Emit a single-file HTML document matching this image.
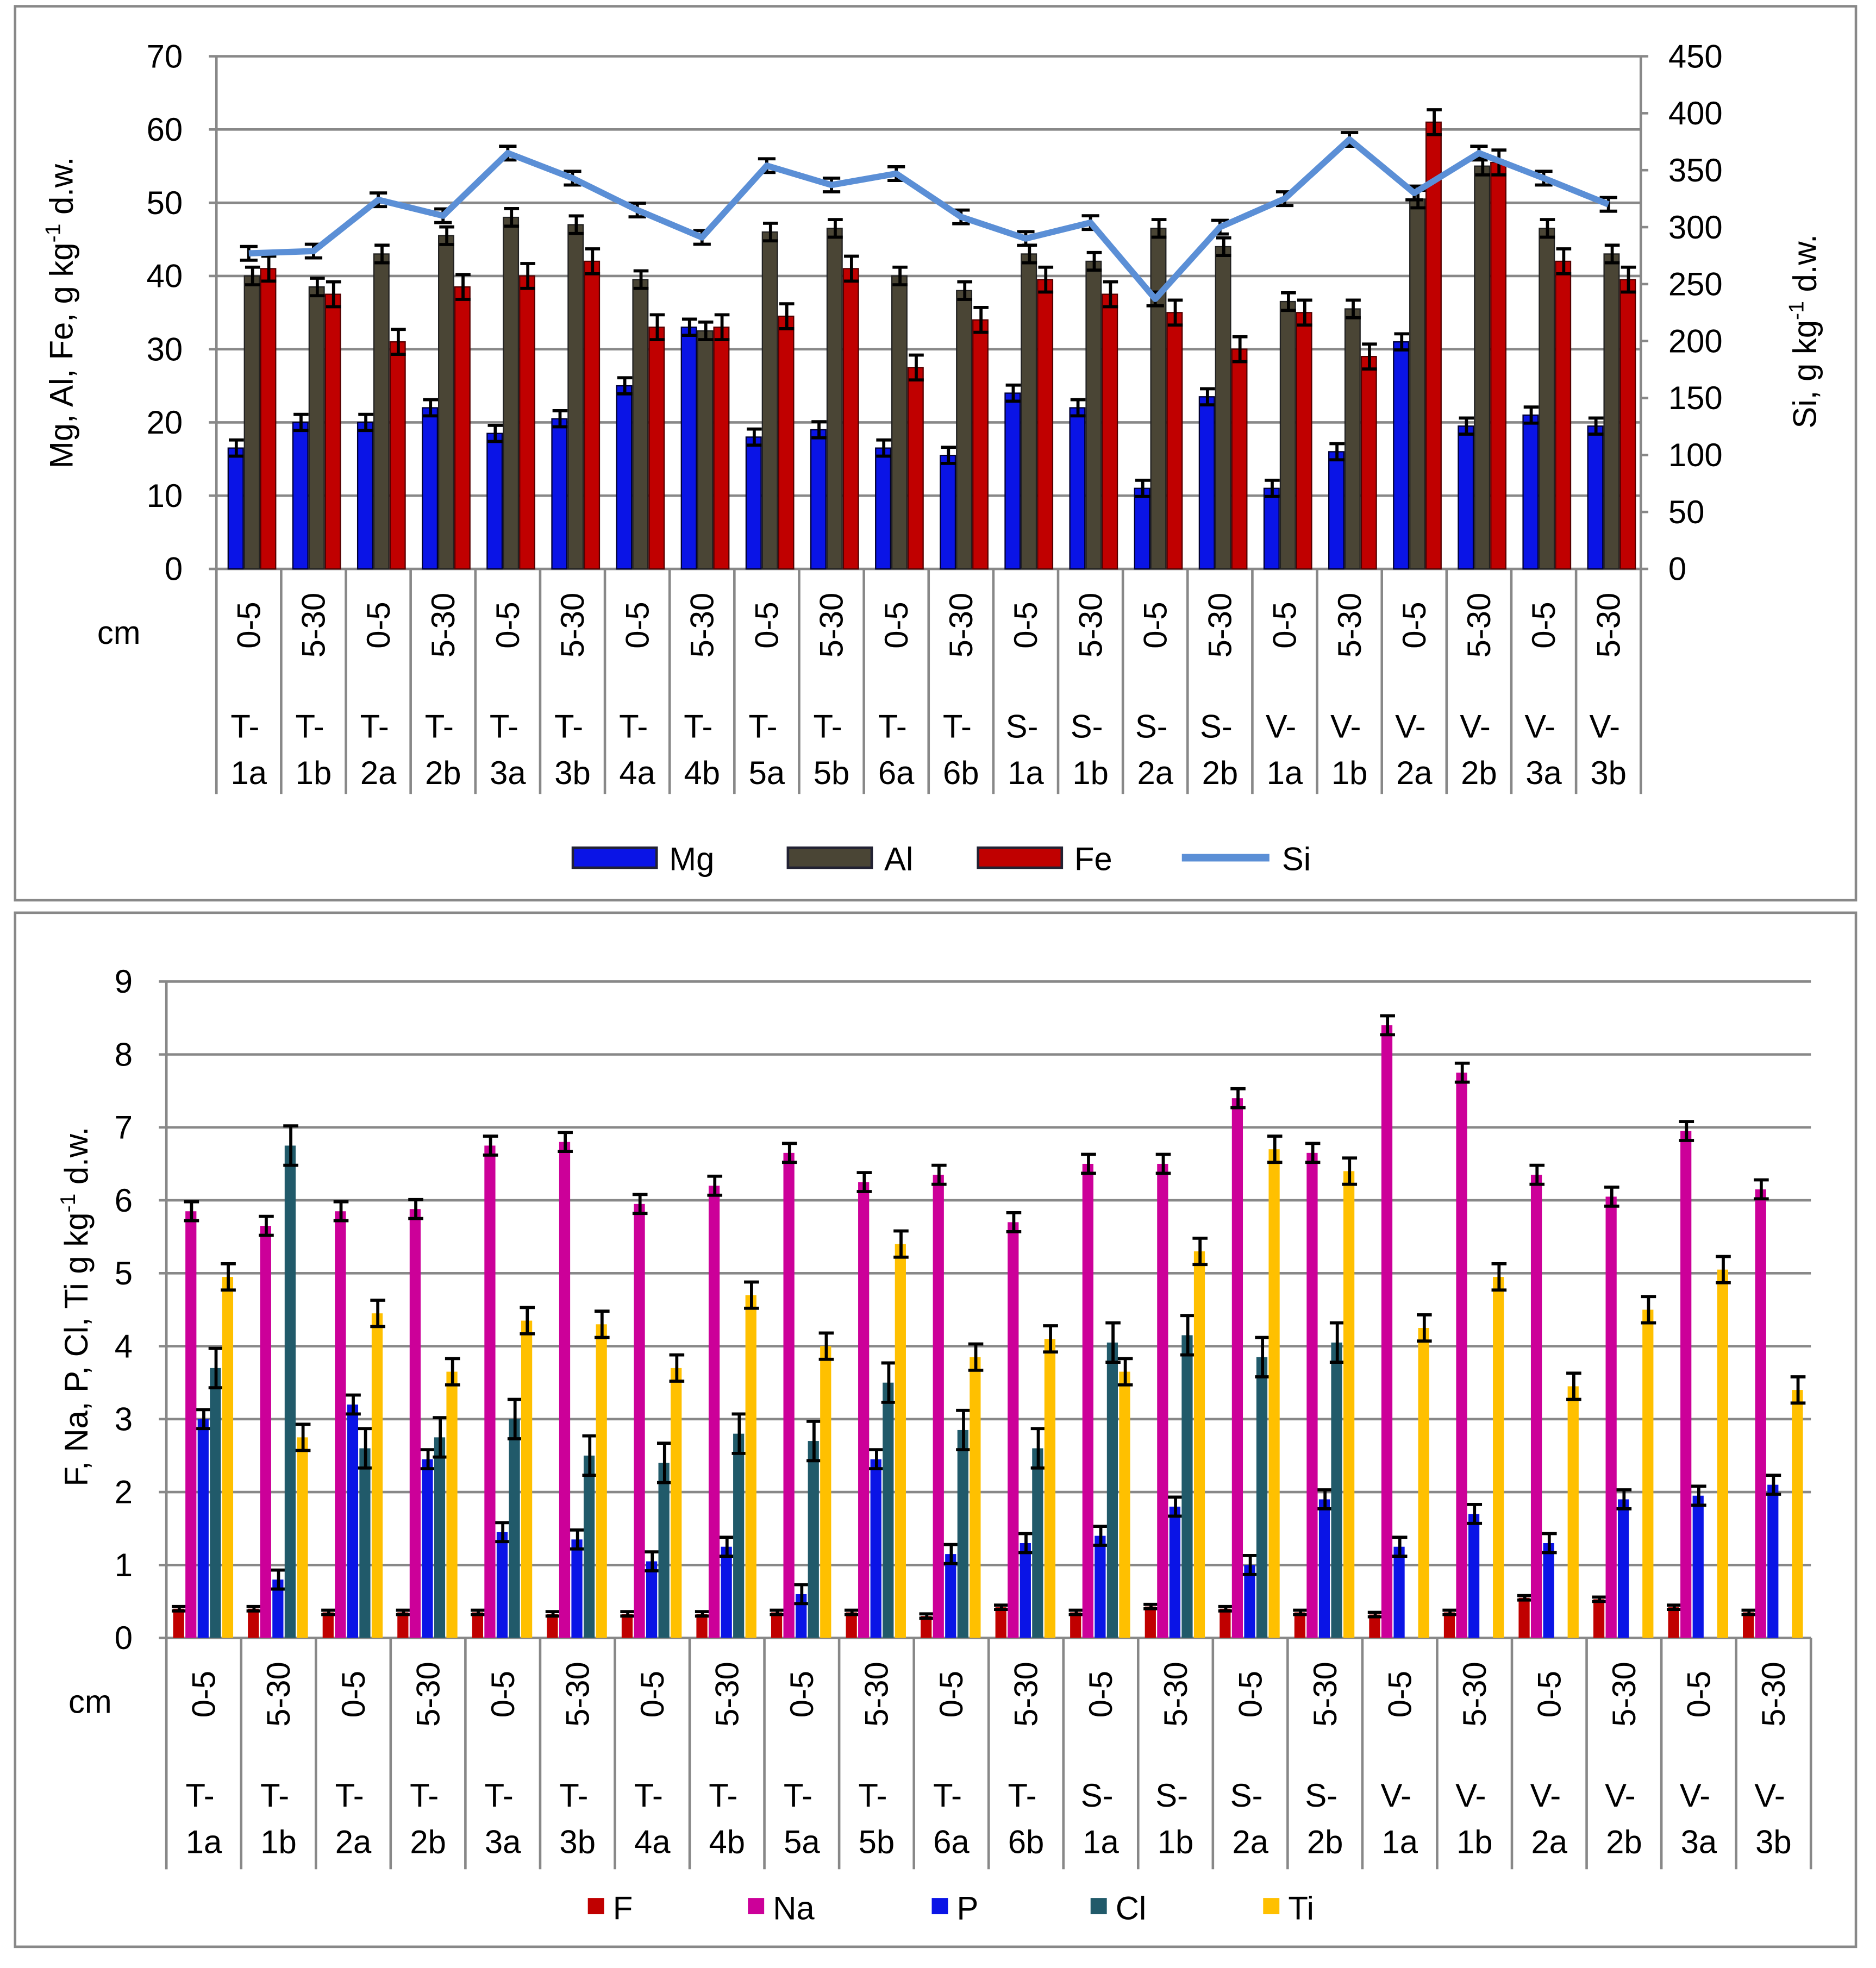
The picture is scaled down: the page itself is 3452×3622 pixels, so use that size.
<!DOCTYPE html>
<html><head><meta charset="utf-8"><style>
html,body{margin:0;padding:0;background:#fff}
svg{display:block;font-family:"Liberation Sans",Arial,sans-serif}
</style></head><body>
<svg id="s" width="3452" height="3622" viewBox="0 0 1500 1574" xmlns="http://www.w3.org/2000/svg">
<rect x="0" y="0" width="1500" height="1574" fill="#fff"/>
<rect x="12" y="5" width="1472" height="715" fill="#fff" stroke="#888" stroke-width="2"/>
<rect x="12" y="730" width="1472" height="827" fill="#fff" stroke="#888" stroke-width="2"/>
<g id="topchart"></g><g id="botchart"></g>
</svg>
<script>
const depths=["0-5","5-30","0-5","5-30","0-5","5-30","0-5","5-30","0-5","5-30","0-5","5-30","0-5","5-30","0-5","5-30","0-5","5-30","0-5","5-30","0-5","5-30"];
const groupsA=["T-","T-","T-","T-","T-","T-","T-","T-","T-","T-","T-","T-","S-","S-","S-","S-","V-","V-","V-","V-","V-","V-"];
const groupsB=["1a","1b","2a","2b","3a","3b","4a","4b","5a","5b","6a","6b","1a","1b","2a","2b","1a","1b","2a","2b","3a","3b"];
const mg=[16.5,20,20,22,18.5,20.5,25,33,18,19,16.5,15.5,24,22,11,23.5,11,16,31,19.5,21,19.5];
const al=[40,38.5,43,45.5,48,47,39.5,32.5,46,46.5,40,38,43,42,46.5,44,36.5,35.5,50.5,55,46.5,43];
const fe=[41,37.5,31,38.5,40,42,33,33,34.5,41,27.5,34,39.5,37.5,35,30,35,29,61,55.5,42,39.5];
const si=[277,279,324,310,365,343,315,291,354,337,347,309,290,304,237,300,325,377,330,365,343,320];
const fF=[0.4,0.4,0.35,0.35,0.35,0.33,0.33,0.33,0.35,0.35,0.3,0.42,0.35,0.43,0.4,0.35,0.32,0.35,0.55,0.53,0.42,0.35];
const na=[5.85,5.65,5.85,5.88,6.75,6.8,5.95,6.2,6.65,6.25,6.35,5.7,6.5,6.5,7.4,6.65,8.4,7.75,6.35,6.05,6.95,6.15];
const pP=[3.0,0.8,3.2,2.45,1.45,1.35,1.05,1.25,0.6,2.45,1.15,1.3,1.4,1.8,1.0,1.9,1.25,1.7,1.3,1.9,1.95,2.1];
const cl=[3.7,6.75,2.6,2.75,3.0,2.5,2.4,2.8,2.7,3.5,2.85,2.6,4.05,4.15,3.85,4.05,0,0,0,0,0,0];
const ti=[4.95,2.75,4.45,3.65,4.35,4.3,3.7,4.7,4.0,5.4,3.85,4.1,3.65,5.3,6.7,6.4,4.25,4.95,3.45,4.5,5.05,3.4];
const topTicksL=[0,10,20,30,40,50,60,70];
const topTicksR=[0,50,100,150,200,250,300,350,400,450];
const botTicks=[0,1,2,3,4,5,6,7,8,9];

const NS="http://www.w3.org/2000/svg";
function mk(p,t,a,txt){const e=document.createElementNS(NS,t);for(const k in a)e.setAttribute(k,a[k]);if(txt!=null)e.textContent=txt;p.appendChild(e);return e;}

function chart(g,o){
  const n=depths.length,cw=(o.x1-o.x0)/n;
  const y=v=>o.y1-(v/o.max)*(o.y1-o.y0);
  o.ticks.forEach(t=>{
    const l=mk(g,'line',{x1:o.x0-6,x2:o.x1,y1:y(t),y2:y(t),stroke:'#888','stroke-width':2});
    
    
    const tx=mk(g,'text',{x:o.x0-27,y:y(t)+9,'text-anchor':'end','font-size':26},t);
    
    
  });
  mk(g,'line',{x1:o.x0,x2:o.x0,y1:o.y0,y2:o.lab,stroke:'#888','stroke-width':2});
  for(let i=0;i<=n;i++){const x=o.x0+i*cw;mk(g,'line',{x1:x,x2:x,y1:o.y1,y2:o.lab,stroke:'#888','stroke-width':2});}
  for(let i=0;i<n;i++){
    const cx=o.x0+(i+0.5)*cw;
    const d=mk(g,'text',{transform:`translate(${cx+9},${o.y1+45}) rotate(-90)`,'text-anchor':'middle','font-size':26},depths[i]);
    
    
    const a=mk(g,'text',{x:cx-3,y:o.y1+o.ga,'text-anchor':'middle','font-size':26},groupsA[i]);
    
    
    mk(g,'text',{x:cx,y:o.y1+o.ga+37,'text-anchor':'middle','font-size':26},groupsB[i]);
    const ns=o.series.length,bw=o.bw;
    o.series.forEach((s,k)=>{
      const v=s.data[i];if(!v)return;
      const bx=cx-ns*bw/2+k*bw+o.off;
      const r=mk(g,'rect',{x:bx,y:y(v),width:bw-1,height:o.y1-y(v),fill:s.color,stroke:s.stroke||'none','stroke-width':1});
      
      
      const e=s.err,m=bx+bw/2;
      mk(g,'path',{d:`M${m},${y(v+e)}V${y(v-e)}M${m-6},${y(v+e)}H${m+6}M${m-6},${y(v-e)}H${m+6}`,stroke:'#000','stroke-width':2.5,fill:'none'});
    });
  }
  mk(g,'text',{x:o.cmx,y:o.y1+60,'text-anchor':'middle','font-size':26},'cm');
  return {y,cw};
}

const topG=document.getElementById('topchart');
const T={x0:173,x1:1312,y0:45,y1:455,max:70,ticks:topTicksL,lab:635,ga:135,cmx:95,bw:13,off:3,
 series:[{name:'Mg',data:mg,color:'#0a14e6',stroke:'#003',err:1.1},{name:'Al',data:al,color:'#4a4535',stroke:'#222',err:1.2},{name:'Fe',data:fe,color:'#c00000',stroke:'#500',err:1.7}]};
const rt=chart(topG,T);
const yr=v=>T.y1-(v/450)*(T.y1-T.y0);
mk(topG,'line',{x1:T.x1,x2:T.x1,y1:T.y0,y2:T.y1,stroke:'#888','stroke-width':2});
topTicksR.forEach(t=>{
  mk(topG,'line',{x1:T.x1,x2:T.x1+6,y1:yr(t),y2:yr(t),stroke:'#888','stroke-width':2});
  const tx=mk(topG,'text',{x:T.x1+22,y:yr(t)+9,'font-size':26},t);
  
  
});
let pts=si.map((v,i)=>`${T.x0+(i+0.5)*rt.cw},${yr(v)}`).join(' ');
si.forEach((v,i)=>{const x=T.x0+(i+0.5)*rt.cw,e=6;mk(topG,'path',{d:`M${x},${yr(v+e)}V${yr(v-e)}M${x-7},${yr(v+e)}H${x+7}M${x-7},${yr(v-e)}H${x+7}`,stroke:'#000','stroke-width':2.5});});
const ln=mk(topG,'polyline',{points:pts,fill:'none',stroke:'#5b8fd6','stroke-width':5,'stroke-linejoin':'round'});


mk(topG,'text',{transform:'translate(58,250) rotate(-90)','text-anchor':'middle','font-size':26}).innerHTML='Mg, Al, Fe, g kg<tspan dy="-10" font-size="17">-1</tspan><tspan dy="10"> d.w.</tspan>';
mk(topG,'text',{transform:'translate(1452,265) rotate(-90)','text-anchor':'middle','font-size':26}).innerHTML='Si, g kg<tspan dy="-10" font-size="17">-1</tspan><tspan dy="10"> d.w.</tspan>';
[['Mg',458,'#0a14e6'],['Al',630,'#4a4535'],['Fe',782,'#c00000']].forEach(([n,x,c])=>{
  const r=mk(topG,'rect',{x:x,y:678,width:67,height:16,fill:c,stroke:'#223','stroke-width':2});
  
  
  mk(topG,'text',{x:x+77,y:696,'font-size':26},n);
});
mk(topG,'line',{x1:945,x2:1015,y1:686,y2:686,stroke:'#5b8fd6','stroke-width':6});
mk(topG,'text',{x:1025,y:696,'font-size':26},'Si');

const botG=document.getElementById('botchart');
const B={x0:133,x1:1448,y0:785,y1:1310,max:9,ticks:botTicks,lab:1495,ga:135,cmx:72,bw:9.8,off:0,
 series:[{name:'F',data:fF,color:'#c00000',err:0.03},{name:'Na',data:na,color:'#cc0099',err:0.13},{name:'P',data:pP,color:'#0a14e6',err:0.13},{name:'Cl',data:cl,color:'#215a6a',err:0.27},{name:'Ti',data:ti,color:'#ffc000',err:0.18}]};
chart(botG,B);
mk(botG,'text',{transform:'translate(70,1045) rotate(-90)','text-anchor':'middle','font-size':26}).innerHTML='F, Na, P, Cl, Ti g kg<tspan dy="-10" font-size="17">-1</tspan><tspan dy="10"> d.w.</tspan>';
[['F',470,'#c00000'],['Na',598,'#cc0099'],['P',745,'#0a14e6'],['Cl',872,'#215a6a'],['Ti',1010,'#ffc000']].forEach(([n,x,c])=>{
  const r=mk(botG,'rect',{x:x,y:1518,width:13,height:13,fill:c});
  
  
  mk(botG,'text',{x:x+20,y:1535,'font-size':26},n);
});
</script>
</body></html>
